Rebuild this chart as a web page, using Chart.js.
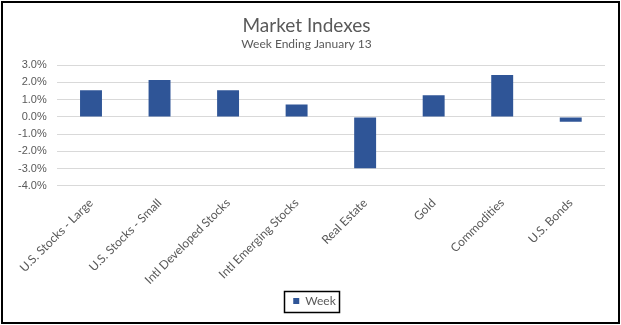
<!DOCTYPE html>
<html>
<head>
<meta charset="utf-8">
<script src="https://cdn.jsdelivr.net/npm/chart.js"></script>
<style>
  body { margin: 0; background: #fff; }
  #wrap { width: 621px; height: 325px; position: relative; }
</style>
</head>
<body>
<div id="wrap"><canvas id="chart" width="621" height="325"></canvas></div>
<script>
// data
const categories = ['U.S. Stocks - Large', 'U.S. Stocks - Small', 'Intl Developed Stocks', 'Intl Emerging Stocks',
                    'Real Estate', 'Gold', 'Commodities', 'U.S. Bonds'];
const weekValues = [1.55, 2.14, 1.55, 0.72, -2.98, 1.25, 2.43, -0.28];
const seriesName = 'Week';
const yTicks = [-4, -3, -2, -1, 0, 1, 2, 3];

const textColor = '#595959';
const legendShift = 8;

// outer frame and a small box round the legend item
const framePlugin = {
    id: 'frame',
    beforeDraw(chart) {
        // nudge legend so it sits centred on the whole canvas
        const lg = chart.legend;
        if (!lg._nudged) {
            lg.left += legendShift;
            lg.right += legendShift;
            lg._nudged = true;
        }
    },
    afterDraw(chart) {
        const ctx = chart.ctx;
        ctx.save();
        ctx.strokeStyle = '#000';
        ctx.lineWidth = 2;
        ctx.strokeRect(2, 2, chart.width - 4, chart.height - 4);
        const hb = chart.legend.legendHitBoxes[0];
        if (hb) {
            ctx.lineWidth = 1.5;
            const x = Math.round(hb.left + legendShift) - 9, y = Math.round(hb.top) - 4;
            ctx.strokeRect(x + 0.5, y + 0.5, Math.round(hb.width) + 12, Math.round(hb.height) + 9);
        }
        ctx.restore();
    }
};

new Chart(document.getElementById('chart'), {
    type: 'bar',
    data: {
        labels: categories,
        datasets: [{
            label: seriesName,
            data: weekValues,
            backgroundColor: '#2F5597',
            barPercentage: 0.32,
            categoryPercentage: 1
        }]
    },
    options: {
        responsive: false,
        animation: false,
        layout: { padding: { left: 8, right: 16, top: 10, bottom: 8 } },
        plugins: {
            title: {
                display: true,
                text: 'Market Indexes',
                color: textColor,
                font: { family: 'Lato', size: 19, weight: 'normal' },
                padding: { top: 4, bottom: 0 }
            },
            subtitle: {
                display: true,
                text: 'Week Ending January 13',
                color: textColor,
                font: { family: 'Lato', size: 12 },
                padding: { top: 0, bottom: 14 }
            },
            legend: {
                position: 'bottom',
                labels: {
                    color: textColor,
                    boxWidth: 6,
                    boxHeight: 6,
                    padding: 6,
                    font: { family: 'Lato', size: 12 }
                }
            },
            tooltip: { enabled: false }
        },
        scales: {
            x: {
                grid: { display: false },
                border: { display: false },
                ticks: {
                    color: textColor,
                    font: { family: 'Lato', size: 12 },
                    minRotation: 45,
                    maxRotation: 45,
                    padding: 2
                }
            },
            y: {
                min: yTicks[0],
                max: yTicks[yTicks.length - 1],
                afterBuildTicks(axis) { axis.ticks = yTicks.map(v => ({ value: v })); },
                grid: { color: '#d9d9d9', drawTicks: false },
                border: { display: false },
                ticks: {
                    color: textColor,
                    font: { family: 'Arial', size: 11 },
                    padding: 10,
                    callback: v => v.toFixed(1) + '%'
                }
            }
        }
    },
    plugins: [framePlugin]
});
</script>
</body>
</html>
